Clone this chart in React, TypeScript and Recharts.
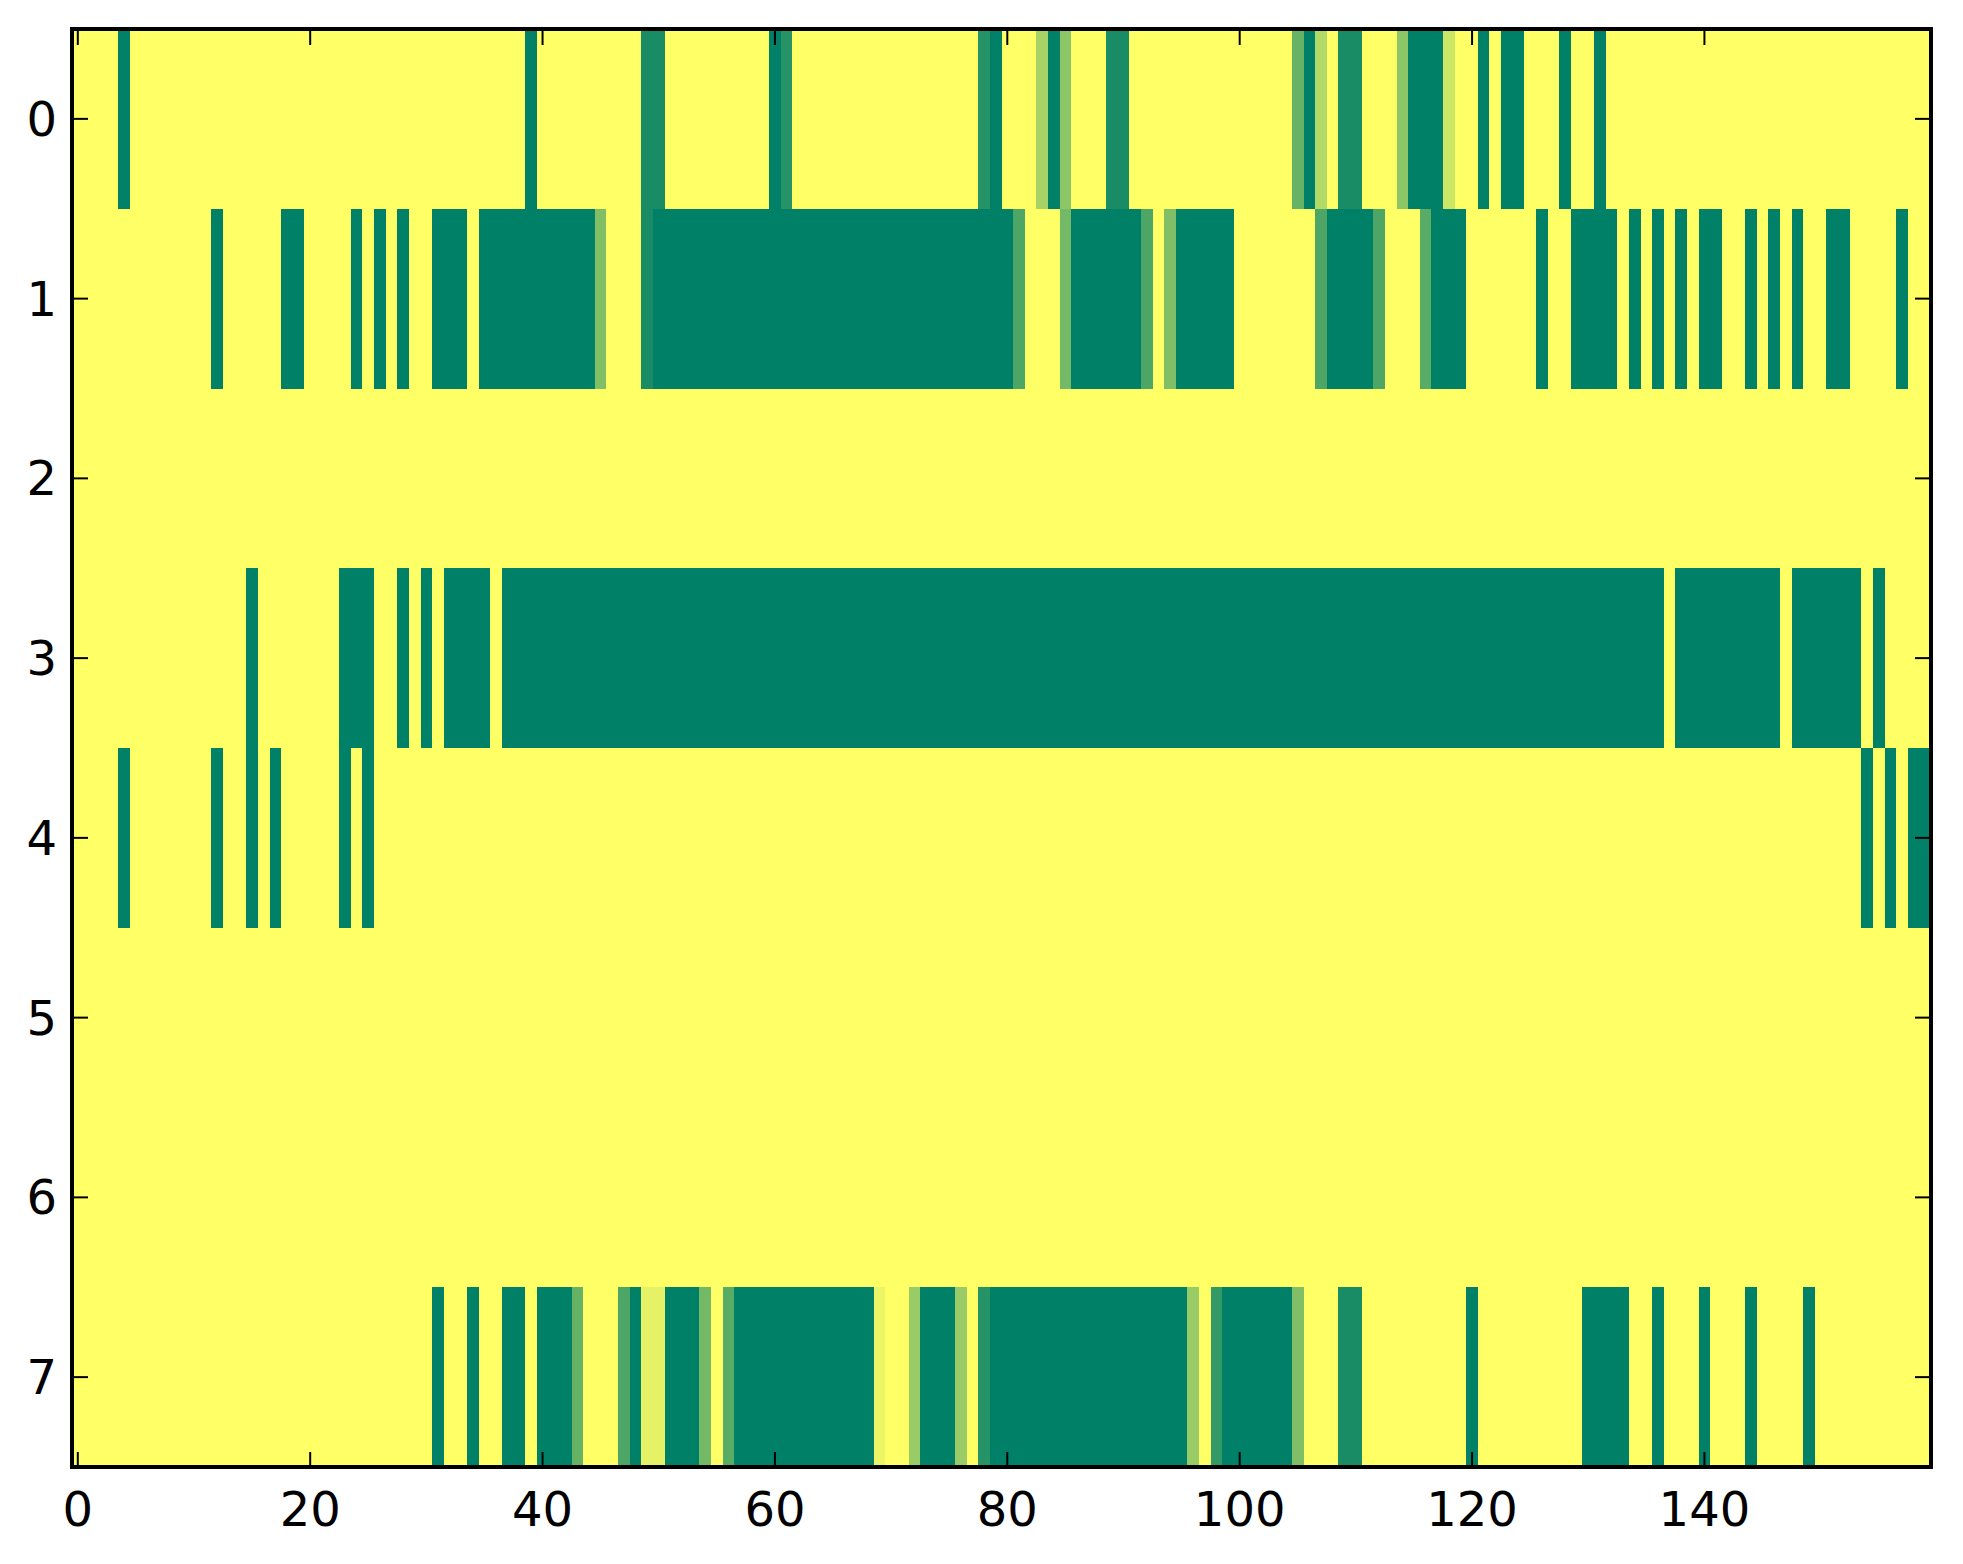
import React from 'react';
import { ComposedChart, XAxis, YAxis, ReferenceArea } from 'recharts';

// Tick labels
const xTicks = [0, 20, 40, 60, 80, 100, 120, 140];
const yTicks = [0, 1, 2, 3, 4, 5, 6, 7];

// Cell values per row (160 columns each, 0 = yellow, 1 = green)
const row0 = [
  0, 0, 0, 0, 1, 0, 0, 0, 0, 0,
  0, 0, 0, 0, 0, 0, 0, 0, 0, 0,
  0, 0, 0, 0, 0, 0, 0, 0, 0, 0,
  0, 0, 0, 0, 0, 0, 0, 0, 0, 1,
  0, 0, 0, 0, 0, 0, 0, 0, 0, 0.9,
  0.9, 0, 0, 0, 0, 0, 0, 0, 0, 0,
  1, 0.85, 0, 0, 0, 0, 0, 0, 0, 0,
  0, 0, 0, 0, 0, 0, 0, 0, 0.85, 1,
  0, 0, 0, 0.35, 1, 0.45, 0, 0, 0, 0.9,
  0.9, 0, 0, 0, 0, 0, 0, 0, 0, 0,
  0, 0, 0, 0, 0, 0.6, 1, 0.3, 0, 0.9,
  0.9, 0, 0, 0, 0.45, 1, 1, 1, 0.2, 0,
  0, 1, 0, 1, 1, 0, 0, 0, 1, 0,
  0, 1, 0, 0, 0, 0, 0, 0, 0, 0,
  0, 0, 0, 0, 0, 0, 0, 0, 0, 0,
  0, 0, 0, 0, 0, 0, 0, 0, 0, 0,
];

const row1 = [
  0, 0, 0, 0, 0, 0, 0, 0, 0, 0,
  0, 0, 1, 0, 0, 0, 0, 0, 1, 1,
  0, 0, 0, 0, 1, 0, 1, 0, 1, 0,
  0, 1, 1, 1, 0, 1, 1, 1, 1, 1,
  1, 1, 1, 1, 1, 0.5, 0, 0, 0, 0.9,
  1, 1, 1, 1, 1, 1, 1, 1, 1, 1,
  1, 1, 1, 1, 1, 1, 1, 1, 1, 1,
  1, 1, 1, 1, 1, 1, 1, 1, 1, 1,
  1, 0.7, 0, 0, 0, 0.55, 1, 1, 1, 1,
  1, 1, 0.7, 0, 0.5, 1, 1, 1, 1, 1,
  0, 0, 0, 0, 0, 0, 0, 0.7, 1, 1,
  1, 1, 0.7, 0, 0, 0, 0.65, 1, 1, 1,
  0, 0, 0, 0, 0, 0, 1, 0, 0, 1,
  1, 1, 1, 0, 1, 0, 1, 0, 1, 0,
  1, 1, 0, 0, 1, 0, 1, 0, 1, 0,
  0, 1, 1, 0, 0, 0, 0, 1, 0, 0,
];

const row2 = [
  0, 0, 0, 0, 0, 0, 0, 0, 0, 0,
  0, 0, 0, 0, 0, 0, 0, 0, 0, 0,
  0, 0, 0, 0, 0, 0, 0, 0, 0, 0,
  0, 0, 0, 0, 0, 0, 0, 0, 0, 0,
  0, 0, 0, 0, 0, 0, 0, 0, 0, 0,
  0, 0, 0, 0, 0, 0, 0, 0, 0, 0,
  0, 0, 0, 0, 0, 0, 0, 0, 0, 0,
  0, 0, 0, 0, 0, 0, 0, 0, 0, 0,
  0, 0, 0, 0, 0, 0, 0, 0, 0, 0,
  0, 0, 0, 0, 0, 0, 0, 0, 0, 0,
  0, 0, 0, 0, 0, 0, 0, 0, 0, 0,
  0, 0, 0, 0, 0, 0, 0, 0, 0, 0,
  0, 0, 0, 0, 0, 0, 0, 0, 0, 0,
  0, 0, 0, 0, 0, 0, 0, 0, 0, 0,
  0, 0, 0, 0, 0, 0, 0, 0, 0, 0,
  0, 0, 0, 0, 0, 0, 0, 0, 0, 0,
];

const row3 = [
  0, 0, 0, 0, 0, 0, 0, 0, 0, 0,
  0, 0, 0, 0, 0, 1, 0, 0, 0, 0,
  0, 0, 0, 1, 1, 1, 0, 0, 1, 0,
  1, 0, 1, 1, 1, 1, 0, 1, 1, 1,
  1, 1, 1, 1, 1, 1, 1, 1, 1, 1,
  1, 1, 1, 1, 1, 1, 1, 1, 1, 1,
  1, 1, 1, 1, 1, 1, 1, 1, 1, 1,
  1, 1, 1, 1, 1, 1, 1, 1, 1, 1,
  1, 1, 1, 1, 1, 1, 1, 1, 1, 1,
  1, 1, 1, 1, 1, 1, 1, 1, 1, 1,
  1, 1, 1, 1, 1, 1, 1, 1, 1, 1,
  1, 1, 1, 1, 1, 1, 1, 1, 1, 1,
  1, 1, 1, 1, 1, 1, 1, 1, 1, 1,
  1, 1, 1, 1, 1, 1, 1, 0, 1, 1,
  1, 1, 1, 1, 1, 1, 1, 0, 1, 1,
  1, 1, 1, 1, 0, 1, 0, 0, 0, 0,
];

const row4 = [
  0, 0, 0, 0, 1, 0, 0, 0, 0, 0,
  0, 0, 1, 0, 0, 1, 0, 1, 0, 0,
  0, 0, 0, 1, 0, 1, 0, 0, 0, 0,
  0, 0, 0, 0, 0, 0, 0, 0, 0, 0,
  0, 0, 0, 0, 0, 0, 0, 0, 0, 0,
  0, 0, 0, 0, 0, 0, 0, 0, 0, 0,
  0, 0, 0, 0, 0, 0, 0, 0, 0, 0,
  0, 0, 0, 0, 0, 0, 0, 0, 0, 0,
  0, 0, 0, 0, 0, 0, 0, 0, 0, 0,
  0, 0, 0, 0, 0, 0, 0, 0, 0, 0,
  0, 0, 0, 0, 0, 0, 0, 0, 0, 0,
  0, 0, 0, 0, 0, 0, 0, 0, 0, 0,
  0, 0, 0, 0, 0, 0, 0, 0, 0, 0,
  0, 0, 0, 0, 0, 0, 0, 0, 0, 0,
  0, 0, 0, 0, 0, 0, 0, 0, 0, 0,
  0, 0, 0, 0, 1, 0, 1, 0, 1, 1,
];

const row5 = [...row2];
const row6 = [...row2];

const row7 = [
  0, 0, 0, 0, 0, 0, 0, 0, 0, 0,
  0, 0, 0, 0, 0, 0, 0, 0, 0, 0,
  0, 0, 0, 0, 0, 0, 0, 0, 0, 0,
  0, 1, 0, 0, 1, 0, 0, 1, 1, 0,
  1, 1, 1, 0.6, 0, 0, 0, 0.7, 1, 0.1,
  0.1, 1, 1, 1, 0.55, 0, 0.65, 1, 1, 1,
  1, 1, 1, 1, 1, 1, 1, 1, 1, 0.08,
  0, 0, 0.4, 1, 1, 1, 0.4, 0, 0.85, 1,
  1, 1, 1, 1, 1, 1, 1, 1, 1, 1,
  1, 1, 1, 1, 1, 1, 0.4, 0, 0.8, 1,
  1, 1, 1, 1, 1, 0.5, 0, 0, 0, 0.9,
  0.9, 0, 0, 0, 0, 0, 0, 0, 0, 0,
  1, 0, 0, 0, 0, 0, 0, 0, 0, 0,
  1, 1, 1, 1, 0, 0, 1, 0, 0, 0,
  1, 0, 0, 0, 1, 0, 0, 0, 0, 1,
  0, 0, 0, 0, 0, 0, 0, 0, 0, 0,
];

const rows = [row0, row1, row2, row3, row4, row5, row6, row7];

// matplotlib "summer_r" colormap
const summerR = (v: number) => {
  const r = Math.round(255 * (1 - v));
  const g = Math.round(255 * (1 - 0.5 * v));
  return `rgb(${r},${g},102)`;
};

type Seg = { row: number; start: number; end: number; value: number };

// merge runs of equal values in each row into one rectangle
const segments: Seg[] = [];
rows.forEach((vals, r) => {
  let start = 0;
  for (let c = 1; c <= vals.length; c++) {
    if (c === vals.length || vals[c] !== vals[start]) {
      segments.push({ row: r, start, end: c - 1, value: vals[start] });
      start = c;
    }
  }
});

const nCols = row0.length;
const font = { fontSize: 48, fill: '#000', fontFamily: 'DejaVu Sans' };
const axisLine = { stroke: '#000', strokeWidth: 4, strokeLinecap: 'square' as const };
const tickLine = { stroke: '#000', strokeWidth: 2 };

const CellShape = (p: any) => (
  <rect
    x={p.x}
    y={p.y}
    width={p.width}
    height={p.height}
    fill={p.fill}
    stroke="none"
    shapeRendering="crispEdges"
  />
);

const FrameShape = (p: any) => (
  <rect
    x={p.x}
    y={p.y}
    width={p.width}
    height={p.height}
    fill="none"
    stroke="#000"
    strokeWidth={4}
  />
);

export default function App() {
  return (
    <div style={{ position: 'absolute', left: 0, top: 0, background: '#fff' }}>
      <ComposedChart
        width={1963}
        height={1564}
        margin={{ top: 28, right: 31, bottom: 37, left: 12 }}
      >
        {segments.map((s, i) => (
          <ReferenceArea
            key={i}
            x1={s.start - 0.5}
            x2={s.end + 0.5}
            y1={s.row - 0.5}
            y2={s.row + 0.5}
            fill={summerR(s.value)}
            fillOpacity={1}
            stroke="none"
            ifOverflow="visible"
            shape={CellShape}
          />
        ))}
        <ReferenceArea
          xAxisId="top"
          yAxisId="right"
          x1={-0.5}
          x2={nCols - 0.5}
          y1={-0.5}
          y2={rows.length - 0.5}
          ifOverflow="visible"
          shape={FrameShape}
        />
        <XAxis
          type="number"
          dataKey="x"
          domain={[-0.5, nCols - 0.5]}
          allowDataOverflow
          ticks={xTicks}
          interval={0}
          height={60}
          tickSize={-15}
          tickMargin={40}
          tick={font}
          axisLine={axisLine}
          tickLine={tickLine}
        />
        <XAxis
          xAxisId="top"
          orientation="top"
          type="number"
          dataKey="x"
          domain={[-0.5, nCols - 0.5]}
          allowDataOverflow
          ticks={xTicks}
          interval={0}
          height={1}
          tickSize={-16}
          tick={() => null}
          axisLine={axisLine}
          tickLine={tickLine}
        />
        <YAxis
          type="number"
          dataKey="y"
          domain={[-0.5, rows.length - 0.5]}
          allowDataOverflow
          reversed
          ticks={yTicks}
          interval={0}
          width={60}
          tickSize={-16}
          tickMargin={31}
          tick={font}
          axisLine={axisLine}
          tickLine={tickLine}
        />
        <YAxis
          yAxisId="right"
          orientation="right"
          type="number"
          dataKey="y"
          domain={[-0.5, rows.length - 0.5]}
          allowDataOverflow
          reversed
          ticks={yTicks}
          interval={0}
          width={1}
          tickSize={-16}
          tick={() => null}
          axisLine={axisLine}
          tickLine={tickLine}
        />
      </ComposedChart>
    </div>
  );
}
